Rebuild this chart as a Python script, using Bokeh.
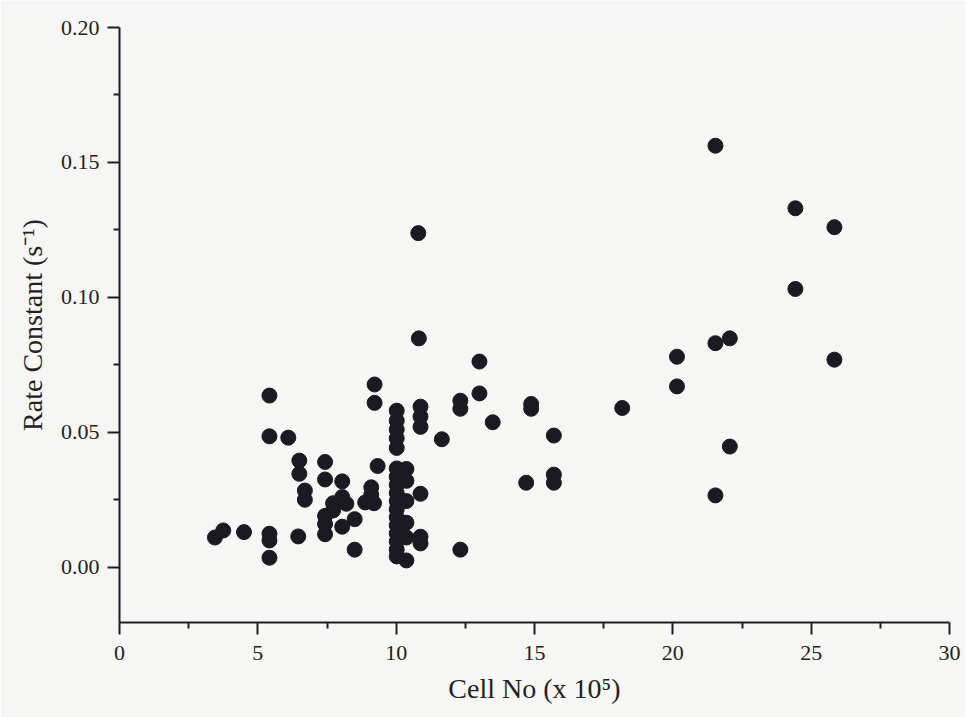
from bokeh.plotting import figure
from bokeh.models import FixedTicker, NumeralTickFormatter, Range1d, ColumnDataSource
from bokeh.embed import file_html
from bokeh.resources import INLINE

# Cell number (x 10^5)
cell_no = [
    3.45, 3.75, 4.5,
    5.42, 5.42, 6.1, 5.42, 5.42, 5.42,
    6.5, 6.5, 6.7, 6.7, 6.46,
    7.43, 7.43, 8.05, 7.72, 8.05, 7.72, 8.2,
    7.43, 7.43, 7.43, 8.05, 8.5, 8.5,
    9.22, 9.22, 9.33, 9.1, 9.1, 8.88, 9.2,
    10.02, 10.02, 10.02, 10.02, 10.02, 10.02, 10.02, 10.02, 10.02,
    10.02, 10.02, 10.02, 10.02, 10.02, 10.02, 10.02, 10.02,
    10.37, 10.37, 10.37, 10.37, 10.37, 10.37,
    10.88, 10.88, 10.88, 10.88, 10.88, 10.88, 10.8, 10.82,
    11.65, 12.32, 12.32, 12.32,
    13.01, 13.01, 13.49,
    14.7, 14.88, 14.88, 15.7, 15.7, 15.7,
    18.17, 20.15, 20.15,
    21.54, 21.54, 21.54, 22.06, 22.06,
    24.43, 24.43, 25.84, 25.84,
]
# Rate constant (s^-1)
rate_const = [
    0.011, 0.0136, 0.013,
    0.0636, 0.0485, 0.048, 0.0124, 0.0099, 0.0035,
    0.0395, 0.0346, 0.0284, 0.025, 0.0114,
    0.039, 0.0325, 0.0318, 0.0237, 0.026, 0.021, 0.0235,
    0.019, 0.016, 0.0122, 0.015, 0.0178, 0.0065,
    0.0677, 0.0609, 0.0375, 0.0296, 0.0268, 0.024, 0.0237,
    0.058, 0.0543, 0.051, 0.0478, 0.0442, 0.0366, 0.0335, 0.0305, 0.0275,
    0.0245, 0.0215, 0.0185, 0.0155, 0.0125, 0.0095, 0.0065, 0.004,
    0.0364, 0.032, 0.0245, 0.0165, 0.011, 0.0025,
    0.0595, 0.0558, 0.052, 0.0272, 0.0113, 0.0088, 0.1238, 0.0848,
    0.0474, 0.0617, 0.0587, 0.0065,
    0.0762, 0.0644, 0.0537,
    0.0313, 0.0605, 0.0587, 0.0488, 0.0343, 0.0313,
    0.059, 0.078, 0.067,
    0.1562, 0.083, 0.0266, 0.0848, 0.0447,
    0.133, 0.1031, 0.126, 0.0769,
]

x_ticks = [0, 5, 10, 15, 20, 25, 30]
x_minor = [2.5, 7.5, 12.5, 17.5, 22.5, 27.5]
y_ticks = [0.0, 0.05, 0.10, 0.15, 0.20]
y_minor = [0.025, 0.075, 0.125, 0.175]

src = ColumnDataSource(dict(x=cell_no, y=rate_const))

bg = "#f6f6f5"
p = figure(width=965, height=717, output_backend="svg", toolbar_location=None,
           x_range=Range1d(0, 30), y_range=Range1d(-0.0205, 0.20),
           min_border_left=119, min_border_right=16, min_border_top=27, min_border_bottom=95,
           background_fill_color=bg, border_fill_color=bg)
p.outline_line_color = None
p.grid.visible = False

p.scatter("x", "y", source=src, size=15, fill_color="#1b1a22", line_color="#1b1a22")

p.xaxis[0].ticker = FixedTicker(ticks=x_ticks, minor_ticks=x_minor)
p.yaxis[0].ticker = FixedTicker(ticks=y_ticks, minor_ticks=y_minor)
p.yaxis[0].formatter = NumeralTickFormatter(format="0.00")
p.xaxis.axis_label = "Cell No (x 10\u2075)"
p.yaxis.axis_label = "Rate Constant (s\u207b\u00b9)"

font = "Liberation Serif"
for axes in (p.xaxis, p.yaxis):
    axes.axis_line_color = "#1e1e28"
    axes.axis_line_width = 2
    axes.major_tick_line_color = "#1e1e28"
    axes.major_tick_line_width = 2
    axes.minor_tick_line_color = "#1e1e28"
    axes.minor_tick_line_width = 2
    axes.major_tick_out = 12
    axes.major_tick_in = 0
    axes.minor_tick_out = 6
    axes.minor_tick_in = 0
    axes.major_label_text_font = font
    axes.major_label_text_font_size = "22px"
    axes.major_label_text_color = "#222222"
    axes.axis_label_text_font = font
    axes.axis_label_text_font_size = "28px"
    axes.axis_label_text_font_style = "normal"
    axes.axis_label_text_color = "#222222"

p.xaxis.major_label_standoff = 11
p.yaxis.major_label_standoff = 8
p.xaxis.axis_label_standoff = 10
p.yaxis.axis_label_standoff = 10

open("out.html", "w").write(file_html(p, INLINE))
